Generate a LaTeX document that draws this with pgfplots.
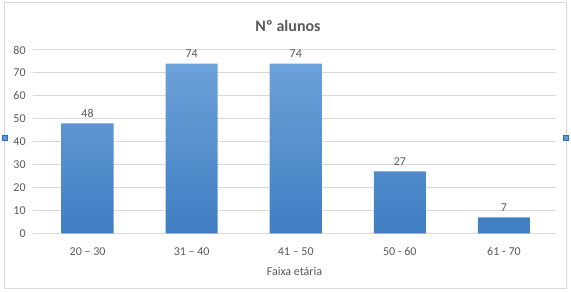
\documentclass[border=0pt]{standalone}
\usepackage{pgfplots}
\pgfplotsset{compat=1.18}
\usepackage{fontspec}
\setmainfont{Carlito}
\definecolor{txt}{HTML}{595959}
\definecolor{gridc}{HTML}{D9D9D9}
\definecolor{framec}{HTML}{D9D9D9}
\definecolor{bartop}{HTML}{6CA1D9}
\definecolor{barbot}{HTML}{3F7EC2}
\definecolor{handle}{HTML}{5B9BD5}
\definecolor{handleb}{HTML}{2F6DAD}
\begin{document}
\begin{tikzpicture}
\useasboundingbox (0,0) rectangle (428.25pt,219pt);
\draw[framec, line width=0.75pt] (3pt,2.25pt) rectangle (424.5pt,216.75pt);
\begin{axis}[
  at={(24.75pt,44pt)}, anchor=south west,
  scale only axis,
  width=392.25pt, height=137.5pt,
  xmin=-0.524, xmax=4.5,
  ymin=0, ymax=80,
  ytick={0,10,...,80},
  xtick=data,
  xticklabels={20 – 30, 31 – 40, 41 – 50, 50 - 60, 61 - 70},
  axis line style={draw=none},
  major tick length=0pt,
  xmajorgrids=false,
  ymajorgrids=true,
  grid style={draw=gridc, line width=0.75pt},
  tick label style={font=\fontsize{9}{10}\selectfont, text=txt},
  /pgf/number format/assume math mode=true,
  yticklabel style={xshift=-2pt},
  xticklabel style={yshift=-7pt},
  xlabel={Faixa etária},
  xlabel style={font=\fontsize{9}{10}\selectfont, text=txt, yshift=-2pt},
  clip=false,
]
\addplot[ybar, bar width=0.5, draw=none, top color=bartop, bottom color=barbot,
  nodes near coords,
  every node near coord/.append style={font=\fontsize{9}{10}\selectfont, text=txt, yshift=1pt}]
  coordinates {(0,48) (1,74) (2,74) (3,27) (4,7)};
\end{axis}
\node[font=\fontsize{12}{14}\selectfont\bfseries, text=txt] at (216pt,199.5pt) {Nº alunos};
\draw[handleb, fill=handle, line width=0.5pt] (1.5pt,113.6pt) rectangle (5.25pt,117.4pt);
\draw[handleb, fill=handle, line width=0.5pt] (422.6pt,113.6pt) rectangle (426.4pt,117.4pt);
\end{tikzpicture}
\end{document}
